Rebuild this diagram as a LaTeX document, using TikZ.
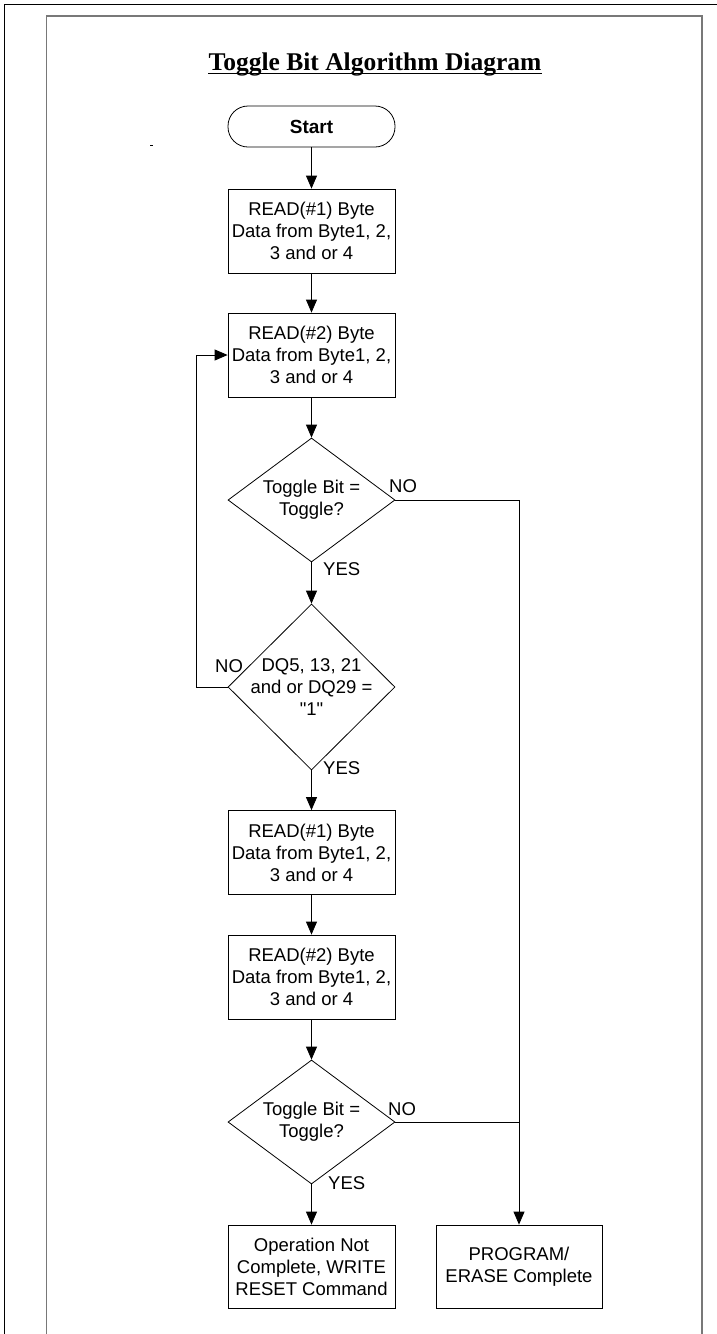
\documentclass[tikz,border=0pt]{standalone}
\usepackage{fontspec}
\newfontfamily\dsans{Liberation Sans}
\newfontfamily\titlefont{Liberation Serif}
\usetikzlibrary{shapes.geometric,arrows.meta}
\begin{document}
\begin{tikzpicture}[x=1pt,y=-1pt,
  every node/.style={font=\dsans\fontsize{18.5}{22}\selectfont, text=black},
  stepbox/.style={draw=black, line width=0.8pt, minimum width=167pt, minimum height=84pt, inner sep=0pt, align=center},
  startbox/.style={draw=black, line width=0.8pt, rounded corners=20pt, minimum width=167pt, minimum height=41pt, inner sep=0pt, font=\dsans\bfseries\fontsize{19}{22}\selectfont},
  decision/.style={draw=black, line width=0.8pt, diamond, minimum width=167pt, inner sep=0pt},
  dtext/.style={inner sep=0pt, align=center},
  lbl/.style={inner sep=0pt, anchor=west},
  conn/.style={draw=black, line width=0.8pt},
  arr/.style={conn, -{Triangle[length=13pt,width=11pt]}}
]
\useasboundingbox (0,0) rectangle (717,1334);
\clip (0,0) rectangle (717,1334);
% frames
\draw[black, line width=1pt] (4.5,1340) -- (4.5,4.5) -- (725,4.5);
\draw[color={rgb,255:red,120;green,120;blue,120}, line width=1.6pt] (46.5,1340) -- (46.5,16) -- (702,16) -- (702,1340);
% title
\node[anchor=base, inner sep=0pt, font=\titlefont\bfseries\fontsize{25.5}{30}\selectfont] (title) at (375,70) {Toggle Bit Algorithm Diagram};
\draw[line width=1.3pt] ([yshift=-3.3pt]title.base west) -- ([yshift=-3.3pt]title.base east);
\draw[line width=0.6pt] (150,145) -- (153,145);
% nodes
\node[startbox] (start) at (311.5,126.5) {Start};
\node[stepbox] (r1) at (311.5,231) {READ(\#1) Byte\\Data from Byte1, 2,\\3 and or 4};
\node[stepbox] (r2) at (311.5,355) {READ(\#2) Byte\\Data from Byte1, 2,\\3 and or 4};
\node[decision, minimum height=124pt] (d1) at (311.5,500) {};
\node[dtext] (t1) at (311.5,499.5) {Toggle Bit =\\Toggle?};
\node[decision, minimum height=166pt] (d2) at (311.5,687) {};
\node[dtext] (t2) at (311.5,687) {DQ5, 13, 21\\and or DQ29 =\\"1"};
\node[stepbox] (r3) at (311.5,852.5) {READ(\#1) Byte\\Data from Byte1, 2,\\3 and or 4};
\node[stepbox] (r4) at (311.5,977) {READ(\#2) Byte\\Data from Byte1, 2,\\3 and or 4};
\node[decision, minimum height=124pt] (d3) at (311.5,1122) {};
\node[dtext] (t3) at (311.5,1121.5) {Toggle Bit =\\Toggle?};
\node[stepbox, minimum height=83pt] (f1) at (311.5,1266.5) {Operation Not\\Complete, WRITE\\RESET Command};
\node[stepbox, minimum width=166pt, minimum height=83pt] (f2) at (519,1266.5) {PROGRAM/\\ERASE Complete};
% labels
\node[lbl] (no1) at (389,486) {NO};
\node[lbl] (yes1) at (323,569) {YES};
\node[lbl] (no2) at (215,666) {NO};
\node[lbl] (yes2) at (323,768) {YES};
\node[lbl] (no3) at (388,1109) {NO};
\node[lbl] (yes3) at (328,1183) {YES};
% connectors
\coordinate (j) at (519,1122);
\draw[arr] (start) -- (r1);
\draw[arr] (r1) -- (r2);
\draw[arr] (r2) -- (d1.north);
\draw[arr] (d1.south) -- (d2.north);
\draw[arr] (d2.south) -- (r3);
\draw[arr] (r3) -- (r4);
\draw[arr] (r4) -- (d3.north);
\draw[arr] (d3.south) -- (f1);
\draw[conn] (d1.east) -| (j);
\draw[arr] (j) -- (f2.north);
\draw[conn] (d3.east) -- (j);
\draw[arr] (d2.west) -- ++(-31,0) |- (r2.west);
\end{tikzpicture}
\end{document}
